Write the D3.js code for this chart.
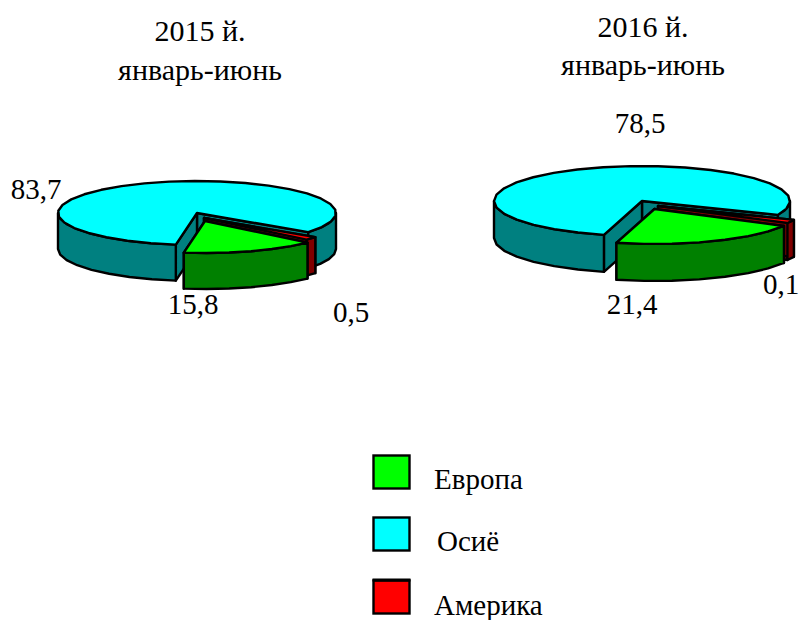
<!DOCTYPE html>
<html>
<head>
<meta charset="utf-8">
<script src="https://cdn.jsdelivr.net/npm/d3@7"></script>
<style>
  html, body { margin: 0; padding: 0; background: #fff; }
  text { font-family: "Liberation Serif", serif; fill: #000; }
</style>
</head>
<body>
<div id="main"></div>
<script>
var categories = ["Европа", "Осиё", "Америка"];
var values2015 = [15.8, 83.7, 0.5];
var values2016 = [21.4, 78.5, 0.1];
var titles2015 = ["2015 й.", "январь-июнь"];
var titles2016 = ["2016 й.", "январь-июнь"];

var topColors = ["#00ff00", "#00ffff", "#ff0000"];
var wallColors = ["#008000", "#008080", "#800000"];

var ctx = {
    w: 799,
    h: 620,
    titleSize: 30,
    fontSize: 29,
    minShare: 1.6, // very small slices are still drawn wide enough to see
    legend: { x: 373.5, size: 33, rows: [455.5, 517.5, 580.5], textX: [434, 437, 434], textY: [489, 551, 615] },
};

var pies = [
    {
        values: values2015, titles: titles2015, titleX: 200, titleY: [41, 80],
        cx: 197, cy: 213, rx: 139, ry: 32, depth: 36, start: 132.5,
        offsets: [[8, 8], [0, 0], [7, 5]],
        labels: [[193, 314], [36, 199], [351, 322]],
    },
    {
        values: values2016, titles: titles2016, titleX: 643, titleY: [37, 75],
        cx: 642, cy: 201, rx: 148, ry: 35, depth: 37, start: 119,
        offsets: [[12.5, 8], [0, 0], [16, 5]],
        labels: [[632, 314], [640, 133], [781, 294]],
    },
];

var rad = Math.PI / 180;
var line = d3.line();

// pie angle 0 is 12 o'clock, same turning direction as the screen
function pointOn(p, off, a, dz) {
    return [
        p.cx + off[0] + p.rx * Math.sin(a),
        p.cy + off[1] - p.ry * Math.cos(a) + dz,
    ];
}

function rim(p, off, a0, a1, dz) {
    var n = Math.max(1, Math.ceil((a1 - a0) / (11 * rad)));
    return d3.range(n + 1).map(function (i) {
        return pointOn(p, off, a0 + ((a1 - a0) * i) / n, dz);
    });
}

function face(g, pts, fill) {
    g.append("path")
        .attr("d", line(pts) + "Z")
        .attr("fill", fill)
        .attr("stroke", "#000")
        .attr("stroke-width", 2.4)
        .attr("stroke-linejoin", "round");
}

// the outer wall only shows on the front half of the ellipse
function outerWalls(g, p, off, d, fill) {
    for (var k = 0; k < 3; k++) {
        var a0 = Math.max(d.startAngle, Math.PI / 2 + k * 2 * Math.PI);
        var a1 = Math.min(d.endAngle, (3 * Math.PI) / 2 + k * 2 * Math.PI);
        if (a1 > a0) {
            face(g, rim(p, off, a0, a1, 0).concat(rim(p, off, a0, a1, p.depth).reverse()), fill);
        }
    }
}

function drawSlice(g, p, d, i) {
    var off = p.offsets[i];
    var c = [p.cx + off[0], p.cy + off[1]];
    var cb = [c[0], c[1] + p.depth];
    [d.endAngle, d.startAngle].forEach(function (a) {
        face(g, [c, pointOn(p, off, a, 0), pointOn(p, off, a, p.depth), cb], wallColors[i]);
    });
    outerWalls(g, p, off, d, wallColors[i]);
    face(g, [c].concat(rim(p, off, d.startAngle, d.endAngle, 0)), topColors[i]);
}

function drawPie(svg, p) {
    var pie = d3.pie()
        .sort(null)
        .value(function (v) { return Math.max(v, ctx.minShare); })
        .startAngle(p.start * rad)
        .endAngle((p.start + 360) * rad);
    var arcs = pie(p.values);
    var g = svg.append("g");

    // back to front: Осиё, Америка, Европа
    [1, 2, 0].forEach(function (i) {
        drawSlice(g, p, arcs[i], i);
    });

    p.titles.forEach(function (t, i) {
        svg.append("text")
            .attr("x", p.titleX)
            .attr("y", p.titleY[i])
            .attr("text-anchor", "middle")
            .attr("font-size", ctx.titleSize)
            .text(t);
    });
    p.values.forEach(function (v, i) {
        svg.append("text")
            .attr("x", p.labels[i][0])
            .attr("y", p.labels[i][1])
            .attr("text-anchor", "middle")
            .attr("font-size", ctx.fontSize)
            .text(String(v).replace(".", ","));
    });
}

function drawLegend(svg) {
    var l = ctx.legend;
    categories.forEach(function (c, i) {
        svg.append("rect")
            .attr("x", l.x)
            .attr("y", l.rows[i])
            .attr("width", l.size + 3)
            .attr("height", l.size)
            .attr("fill", topColors[i])
            .attr("stroke", "#000")
            .attr("stroke-width", 2.4);
        svg.append("text")
            .attr("x", l.textX[i])
            .attr("y", l.textY[i])
            .attr("font-size", ctx.fontSize)
            .text(c);
    });
    // Америка swatch has a heavier top edge
    svg.append("line")
        .attr("x1", l.x - 1)
        .attr("x2", l.x + l.size + 4)
        .attr("y1", l.rows[2] - 0.5)
        .attr("y2", l.rows[2] - 0.5)
        .attr("stroke", "#000")
        .attr("stroke-width", 3);
}

var createViz = function () {
    var svg = d3.select("#main").append("svg")
        .attr("width", ctx.w)
        .attr("height", ctx.h)
        .style("display", "block");
    pies.forEach(function (p) {
        drawPie(svg, p);
    });
    drawLegend(svg);
};

createViz();
</script>
</body>
</html>
